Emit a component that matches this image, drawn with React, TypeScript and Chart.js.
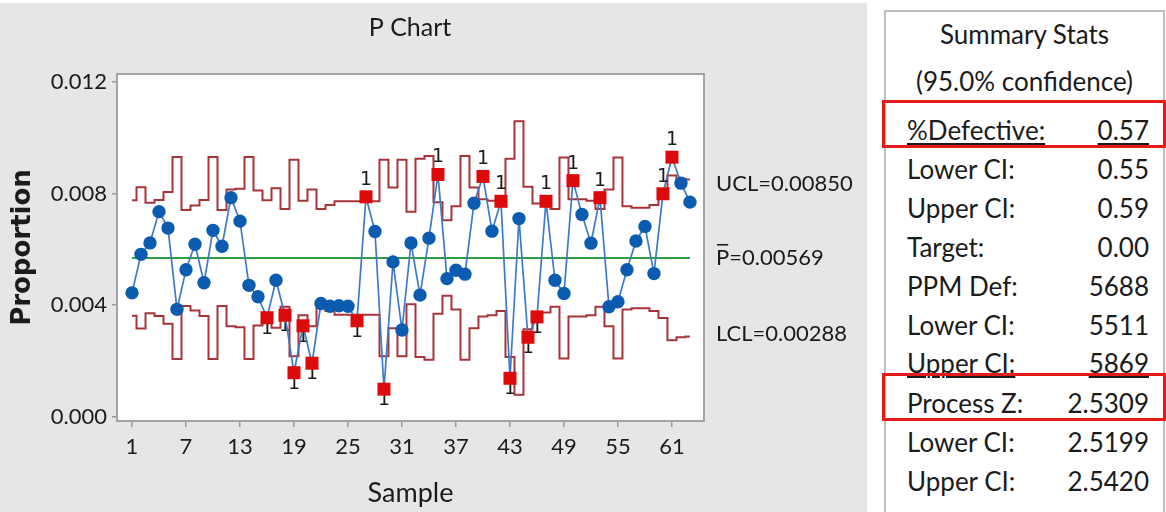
import React, { useEffect, useRef } from 'react';
import { Chart, registerables } from 'chart.js';

Chart.register(...registerables);

// ---------- data ----------
const samples = Array.from({ length: 63 }, (_, i) => i + 1);

const proportion = [
  0.00444, 0.00582, 0.00623, 0.00735, 0.00676, 0.00385, 0.00527, 0.00618, 0.0048, 0.00668,
  0.00611, 0.00785, 0.00701, 0.00471, 0.0043, 0.00355, 0.00489, 0.00364, 0.00158, 0.00326,
  0.00192, 0.00406, 0.00396, 0.00398, 0.00396, 0.00344, 0.00788, 0.00664, 0.00099, 0.00555,
  0.00311, 0.00623, 0.00436, 0.0064, 0.00868, 0.00495, 0.00525, 0.00511, 0.00765, 0.00861,
  0.00665, 0.00772, 0.00138, 0.0071, 0.00285, 0.00358, 0.00772, 0.00489, 0.00442, 0.00846,
  0.00725, 0.00622, 0.00785, 0.00394, 0.00412, 0.00527, 0.0063, 0.00682, 0.00513, 0.00799,
  0.0093, 0.00837, 0.00769,
];

const ucl = [
  0.00776, 0.00822, 0.00767, 0.00777, 0.00805, 0.00931, 0.00741, 0.00757, 0.00777, 0.00931,
  0.00741, 0.00814, 0.00817, 0.00931, 0.00811, 0.00776, 0.00819, 0.00744, 0.00921, 0.00774,
  0.00814, 0.00744, 0.00759, 0.00772, 0.00772, 0.00772, 0.00772, 0.00772, 0.00921, 0.00821,
  0.00921, 0.00735, 0.00924, 0.00934, 0.00769, 0.00704, 0.00754, 0.00934, 0.00821, 0.00779,
  0.00774, 0.00759, 0.00924, 0.01059, 0.00824, 0.00764, 0.00764, 0.00744, 0.00929, 0.00779,
  0.00779, 0.00774, 0.00744, 0.00814, 0.00929, 0.00754, 0.00749, 0.00749, 0.00759, 0.00784,
  0.00864, 0.00853, 0.0085,
];

const lcl = [
  0.00362, 0.00316, 0.00371, 0.00361, 0.00333, 0.00207, 0.00397, 0.00381, 0.00361, 0.00207,
  0.00397, 0.00324, 0.00321, 0.00207, 0.00327, 0.00362, 0.00319, 0.00394, 0.00217, 0.00364,
  0.00324, 0.00394, 0.00379, 0.00366, 0.00366, 0.00366, 0.00366, 0.00366, 0.00217, 0.00317,
  0.00217, 0.00403, 0.00214, 0.00204, 0.00369, 0.00434, 0.00384, 0.00204, 0.00317, 0.00359,
  0.00364, 0.00379, 0.00214, 0.00079, 0.00314, 0.00374, 0.00374, 0.00394, 0.00209, 0.00359,
  0.00359, 0.00364, 0.00394, 0.00324, 0.00209, 0.00384, 0.00389, 0.00389, 0.00379, 0.00354,
  0.00274, 0.00285, 0.00288,
];

const pBar = 0.00569;
const xTickValues = [1, 7, 13, 19, 25, 31, 37, 43, 49, 55, 61];
const yTickValues = [0, 0.004, 0.008, 0.012];
const limitLabels = ['UCL=0.00850', 'P\u0304=0.00569', 'LCL=0.00288'];
const chartTitle = 'P Chart';
const xTitle = 'Sample';
const yTitle = 'Proportion';

const statsTitle = 'Summary Stats';
const statsSubtitle = '(95.0% confidence)';
const statLabels = ['%Defective:', 'Lower CI:', 'Upper CI:', 'Target:', 'PPM Def:', 'Lower CI:', 'Upper CI:', 'Process Z:', 'Lower CI:', 'Upper CI:'];
const statValues = ['0.57', '0.55', '0.59', '0.00', '5688', '5511', '5869', '2.5309', '2.5199', '2.5420'];
const statUnderlined = [true, false, false, false, false, false, true, false, false, false];
const highlightedRows = [0, 7];

// ---------- styles ----------
const FONT = 'Lato, "Liberation Sans", sans-serif';
const TEXT = '#1b1b1b';
const statRowY = [131, 170, 209, 248, 287, 326, 364, 404, 443, 482];

export default function App() {
  const canvasRef = useRef<HTMLCanvasElement | null>(null);

  useEffect(() => {
    document.body.style.margin = '0';
    const canvas = canvasRef.current;
    if (!canvas) return;
    const flags = proportion.map((p, i) => (p > ucl[i] ? 'up' : p < lcl[i] ? 'down' : ''));

    const decor = {
      id: 'decor',
      beforeDraw(chart: any) {
        const { ctx, chartArea: a } = chart;
        ctx.save();
        ctx.fillStyle = '#e6e6e6';
        ctx.fillRect(0, 3, 867, 509);
        ctx.fillStyle = '#ffffff';
        ctx.fillRect(a.left, a.top, a.right - a.left, a.bottom - a.top);
        ctx.restore();
      },
      beforeDatasetsDraw(chart: any) {
        const { ctx } = chart;
        const xs = chart.scales.x;
        const ys = chart.scales.y;
        ctx.save();
        ctx.fillStyle = TEXT;
        ctx.font = '19px "DejaVu Sans"';
        ctx.textAlign = 'center';
        ctx.textBaseline = 'alphabetic';
        proportion.forEach((p, i) => {
          if (flags[i] === 'down') {
            ctx.fillText('1', xs.getPixelForValue(samples[i]), ys.getPixelForValue(p) + 16);
          }
        });
        ctx.restore();
      },
      afterDatasetsDraw(chart: any) {
        const { ctx } = chart;
        const xs = chart.scales.x;
        const ys = chart.scales.y;
        ctx.save();
        ctx.fillStyle = TEXT;
        ctx.font = '19px "DejaVu Sans"';
        ctx.textAlign = 'center';
        ctx.textBaseline = 'alphabetic';
        proportion.forEach((p, i) => {
          if (flags[i] === 'up') {
            ctx.fillText('1', xs.getPixelForValue(samples[i]), ys.getPixelForValue(p) - 12);
          }
        });
        ctx.restore();
      },
      afterDraw(chart: any) {
        const { ctx, chartArea: a } = chart;
        const ys = chart.scales.y;
        ctx.save();
        ctx.strokeStyle = '#a4a4a4';
        ctx.lineWidth = 2;
        ctx.strokeRect(a.left, a.top, a.right - a.left, a.bottom - a.top);

        ctx.fillStyle = TEXT;
        ctx.font = '25px ' + FONT;
        ctx.textAlign = 'center';
        ctx.textBaseline = 'middle';
        ctx.fillText(chartTitle, 410, 28);

        ctx.font = '22px ' + FONT;
        ctx.textAlign = 'left';
        const vals = [ucl[ucl.length - 1], pBar, lcl[lcl.length - 1]];
        const offs = [4, 0, -3];
        limitLabels.forEach((t, k) => {
          const y = ys.getPixelForValue(vals[k]) + offs[k];
          const x = 716;
          if (t.includes('\u0304')) {
            const parts = t.split('\u0304');
            ctx.fillText(parts[0], x, y);
            const w = ctx.measureText(parts[0]).width;
            ctx.fillRect(x + 1, y - 14, w - 2, 1.6);
            ctx.fillText(parts[1], x + w, y);
          } else {
            ctx.fillText(t, x, y);
          }
        });
        ctx.restore();
      },
    };

    const chart = new Chart(canvas, {
      type: 'line',
      data: {
        datasets: [
          {
            label: 'Proportion',
            data: samples.map((s, i) => ({ x: s, y: proportion[i] })),
            borderColor: '#3f7ac6',
            borderWidth: 1.7,
            pointStyle: flags.map((f) => (f ? 'rect' : 'circle')) as any,
            pointRadius: flags.map((f) => (f ? 9.2 : 6.7)),
            pointBackgroundColor: flags.map((f) => (f ? '#dc0a0a' : '#0b5cb0')),
            pointBorderWidth: 0,
            order: 1,
          },
          {
            label: 'Center',
            data: samples.map((s) => ({ x: s, y: pBar })),
            borderColor: '#2f9f45',
            borderWidth: 2,
            pointRadius: 0,
            order: 2,
          },
          {
            label: 'UCL',
            data: samples.map((s, i) => ({ x: s, y: ucl[i] })),
            borderColor: '#a8343a',
            borderWidth: 2,
            stepped: 'middle',
            pointRadius: 0,
            order: 3,
          },
          {
            label: 'LCL',
            data: samples.map((s, i) => ({ x: s, y: lcl[i] })),
            borderColor: '#a8343a',
            borderWidth: 2,
            stepped: 'middle',
            pointRadius: 0,
            order: 3,
          },
        ],
      },
      options: {
        responsive: false,
        animation: false,
        events: [],
        layout: { padding: { top: 74, right: 163, left: 0, bottom: 0 } },
        plugins: { legend: { display: false }, tooltip: { enabled: false }, title: { display: false } },
        scales: {
          x: {
            type: 'linear',
            min: -0.667,
            max: 64.56,
            afterBuildTicks: (axis: any) => {
              axis.ticks = xTickValues.map((v) => ({ value: v }));
            },
            afterFit: (scale: any) => {
              scale.height = 91;
            },
            ticks: {
              autoSkip: false,
              maxRotation: 0,
              padding: 7,
              color: TEXT,
              font: { family: FONT, size: 22 },
              callback: (v: any) => String(v),
            },
            grid: { display: true, drawOnChartArea: false, drawTicks: true, tickLength: 6, color: '#999999', lineWidth: 1.5 },
            border: { display: false },
            title: { display: true, text: xTitle, color: TEXT, font: { family: FONT, size: 27 }, padding: { top: 0, bottom: 3 } },
          },
          y: {
            type: 'linear',
            min: -0.00015,
            max: 0.01228,
            afterBuildTicks: (axis: any) => {
              axis.ticks = yTickValues.map((v) => ({ value: v }));
            },
            afterFit: (scale: any) => {
              scale.width = 117;
            },
            ticks: {
              autoSkip: false,
              padding: 5,
              color: TEXT,
              font: { family: FONT, size: 22 },
              callback: (v: any) => Number(v).toFixed(3),
            },
            grid: { display: true, drawOnChartArea: false, drawTicks: true, tickLength: 5, color: '#999999', lineWidth: 1.5 },
            border: { display: false },
            title: { display: true, text: yTitle, color: TEXT, font: { family: '"DejaVu Sans"', size: 26, weight: 'bold' }, padding: { top: 8, bottom: 0 } },
          },
        },
      },
      plugins: [decor],
    } as any);

    return () => chart.destroy();
  }, []);

  const textBase: React.CSSProperties = {
    position: 'absolute',
    fontFamily: FONT,
    fontSize: 26,
    lineHeight: '32px',
    height: 32,
    color: TEXT,
    whiteSpace: 'nowrap',
  };
  const ul = (on: boolean): React.CSSProperties =>
    on ? { textDecoration: 'underline', textDecorationThickness: '2px', textUnderlineOffset: '3px' } : {};

  return (
    <div style={{ position: 'relative', width: 1166, height: 512, background: '#ffffff', overflow: 'hidden' }}>
      <canvas ref={canvasRef} width={867} height={512} style={{ position: 'absolute', left: 0, top: 0, width: 867, height: 512 }} />
      <div
        style={{
          position: 'absolute',
          left: 884,
          top: 10,
          width: 281,
          height: 510,
          border: '2px solid #bebebe',
          boxSizing: 'border-box',
          background: '#ffffff',
        }}
      />
      <div style={{ ...textBase, left: 884, width: 281, top: 35 - 17, textAlign: 'center' }}>{statsTitle}</div>
      <div style={{ ...textBase, left: 884, width: 281, top: 82 - 17, textAlign: 'center' }}>{statsSubtitle}</div>
      {statLabels.map((lab, i) => (
        <React.Fragment key={i}>
          <div style={{ ...textBase, left: 907, top: statRowY[i] - 17 }}>
            <span style={ul(statUnderlined[i])}>{lab}</span>
          </div>
          <div style={{ ...textBase, right: 1166 - 1149, top: statRowY[i] - 17, textAlign: 'right' }}>
            <span style={ul(statUnderlined[i])}>{statValues[i]}</span>
          </div>
        </React.Fragment>
      ))}
      {highlightedRows.map((r) => (
        <div
          key={r}
          style={{
            position: 'absolute',
            left: 882,
            top: statRowY[r] - 31,
            width: 284,
            height: 48,
            border: '3px solid #e31b1b',
            boxSizing: 'border-box',
          }}
        />
      ))}
    </div>
  );
}
